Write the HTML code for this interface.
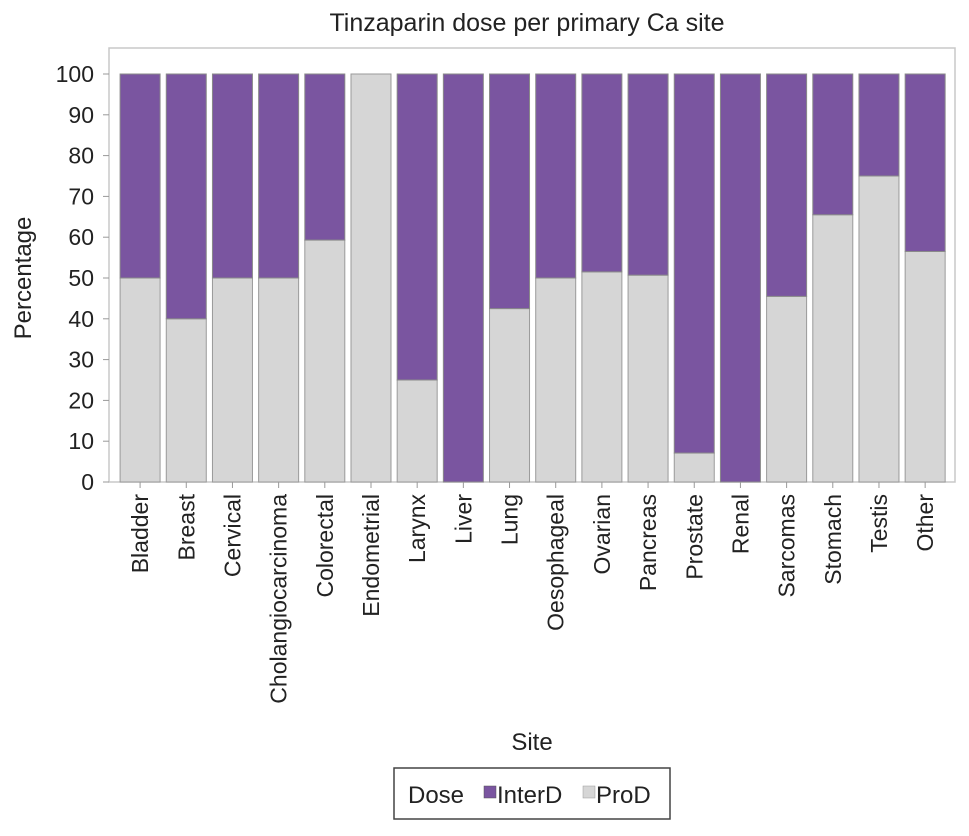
<!DOCTYPE html>
<html><head><meta charset="utf-8"><style>
body{margin:0;background:#fff}
svg text{font-family:"Liberation Sans",Arial,sans-serif;fill:#222}
</style></head><body>
<svg id="chart" width="969" height="831" xmlns="http://www.w3.org/2000/svg">
<text x="527" y="31" font-size="25" text-anchor="middle">Tinzaparin dose per primary Ca site</text>
<rect x="109" y="48" width="846" height="434" fill="none" stroke="#c8c8c8" stroke-width="1.5"/>
<g id="yaxis"></g>
<g id="bars"></g>
<g id="xaxis"></g>
<text transform="translate(31,278) rotate(-90)" font-size="24" text-anchor="middle">Percentage</text>
<text x="532" y="750" font-size="24" text-anchor="middle">Site</text>
<g>
<rect x="394" y="768" width="276" height="51" fill="#fff" stroke="#444" stroke-width="1.5"/>
<text x="408" y="803" font-size="24">Dose</text>
<rect x="484" y="786" width="12" height="12" fill="#7a55a0" stroke="#555" stroke-width="0.5"/>
<text x="497" y="803" font-size="24">InterD</text>
<rect x="583" y="786" width="12" height="12" fill="#d6d6d6" stroke="#999" stroke-width="0.5"/>
<text x="596" y="803" font-size="24">ProD</text>
</g>
</svg>
<script>
const categories = ["Bladder","Breast","Cervical","Cholangiocarcinoma","Colorectal","Endometrial","Larynx","Liver","Lung","Oesophageal","Ovarian","Pancreas","Prostate","Renal","Sarcomas","Stomach","Testis","Other"];
const prodValues = [50,40,50,50,59.3,100,25,0,42.5,50,51.5,50.7,7.1,0,45.5,65.5,75,56.5];
const interdValues = [50,60,50,50,40.7,0,75,100,57.5,50,48.5,49.3,92.9,100,54.5,34.5,25,43.5];
const yTicks = [0,10,20,30,40,50,60,70,80,90,100];

const NS="http://www.w3.org/2000/svg";
const y0=482, y100=74, bandStart=117, bandW=46.18, barW=40;
function yScale(v){return y0-(y0-y100)*v/100;}
function xScale(i){return bandStart+i*bandW+(bandW-barW)/2;}
function mk(tag,attrs,parent){const e=document.createElementNS(NS,tag);for(const k in attrs)e.setAttribute(k,attrs[k]);parent.appendChild(e);return e;}
const ya=document.getElementById('yaxis'), ba=document.getElementById('bars'), xa=document.getElementById('xaxis');
yTicks.forEach(t=>{
  const y=yScale(t);
  const l=mk('line',{x1:103,x2:109,y1:y,y2:y,stroke:'#999'},ya);
  
  
  const tx=mk('text',{x:94,y:y+8,'font-size':23,'text-anchor':'end'},ya);
  tx.textContent=t;
  
  
});
categories.forEach((c,i)=>{
  const x=xScale(i);
  const p=prodValues[i], q=interdValues[i];
  const r1=mk('rect',{x:x,y:yScale(p),width:barW,height:y0-yScale(p),fill:'#d6d6d6',stroke:'#9a9a9a','stroke-width':1},ba);
  
  
  const r2=mk('rect',{x:x,y:yScale(p+q),width:barW,height:yScale(p)-yScale(p+q),fill:'#7a55a0',stroke:'#8a8a8a','stroke-width':1},ba);
  
  
  const cx=x+barW/2;
  const tk=mk('line',{x1:cx,x2:cx,y1:482,y2:488,stroke:'#999'},xa);
  
  
  const t=mk('text',{transform:`translate(${cx+8},494) rotate(-90)`,'font-size':23,'text-anchor':'end'},xa);
  t.textContent=c;
  
  
});
</script>
</body></html>
